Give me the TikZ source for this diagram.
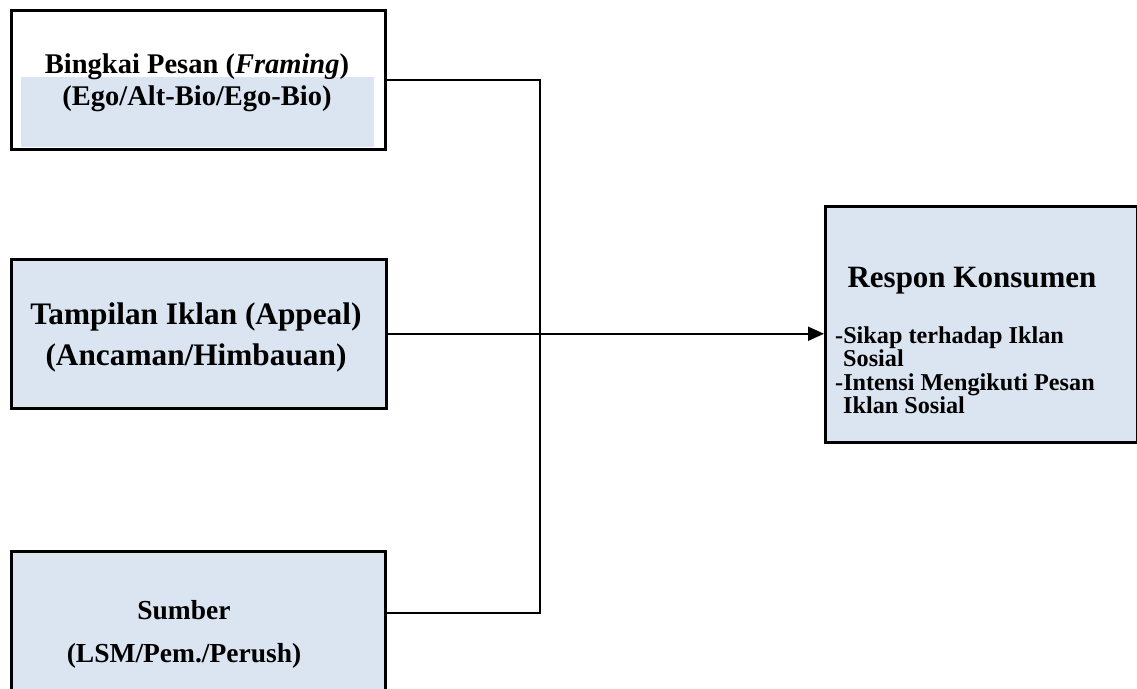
\documentclass[tikz,border=0pt]{standalone}
\usepackage{fontspec}
\setmainfont{Liberation Serif}
\usetikzlibrary{arrows.meta}
\definecolor{boxfill}{HTML}{DBE5F1}
\tikzset{
  box/.style={draw=black, line width=2.5pt, rectangle, inner sep=0pt, anchor=north west},
  conn/.style={draw=black, line width=2pt},
  lbl/.style={inner sep=0pt, anchor=base, font=\bfseries},
  item/.style={inner sep=0pt, anchor=base west, font=\bfseries\fontsize{24.2}{26}\selectfont},
}
\begin{document}
\begin{tikzpicture}[x=1pt, y=-1pt]
\useasboundingbox (0,0) rectangle (1137,688);
\fill[white] (0,0) rectangle (1137,688);

% input boxes
\node[box, fill=white, minimum width=374pt, minimum height=139pt] (b1) at (10,9) {};
\fill[boxfill] (21,77) rectangle (374,146.7);
\node[box, fill=boxfill, minimum width=375pt, minimum height=149pt] (b2) at (10,258) {};
\node[box, fill=boxfill, minimum width=374pt, minimum height=150pt] (b3) at (10,550) {};
% outcome box
\node[box, fill=boxfill, minimum width=312pt, minimum height=236pt] (b4) at (824,205) {};

% labels
\node[lbl, font=\bfseries\fontsize{28.5}{32}\selectfont] (t1a) at (197,73) {Bingkai Pesan (\textit{Framing})};
\node[lbl, font=\bfseries\fontsize{28.5}{32}\selectfont] (t1b) at (197,105) {(Ego/Alt-Bio/Ego-Bio)};
\node[lbl, font=\bfseries\fontsize{31.3}{36}\selectfont] (t2a) at (196,324) {Tampilan Iklan (Appeal)};
\node[lbl, font=\bfseries\fontsize{31.3}{36}\selectfont] (t2b) at (196,365) {(Ancaman/Himbauan)};
\node[lbl, font=\bfseries\fontsize{27.5}{32}\selectfont] (t3a) at (184,619) {Sumber};
\node[lbl, font=\bfseries\fontsize{27.5}{32}\selectfont] (t3b) at (184,662) {(LSM/Pem./Perush)};
\node[lbl, font=\bfseries\fontsize{31}{36}\selectfont] (t4) at (972,287) {Respon Konsumen};
\node[item] (i1) at (835,343) {-Sikap terhadap Iklan};
\node[item] (i1b) at (843,366) {Sosial};
\node[item] (i2) at (835,390) {-Intensi Mengikuti Pesan};
\node[item] (i2b) at (843,413) {Iklan Sosial};

% connectors
\coordinate (jm) at (540,332);
\coordinate (j3) at (540,613);
\draw[conn] (b1.east) -| (jm);
\draw[conn] (b3.east |- j3) -| (jm);
\draw[conn, -{Triangle[length=16pt, width=14pt]}] (b2.east) -- (b4.west |- b2.east);
\end{tikzpicture}
\end{document}
